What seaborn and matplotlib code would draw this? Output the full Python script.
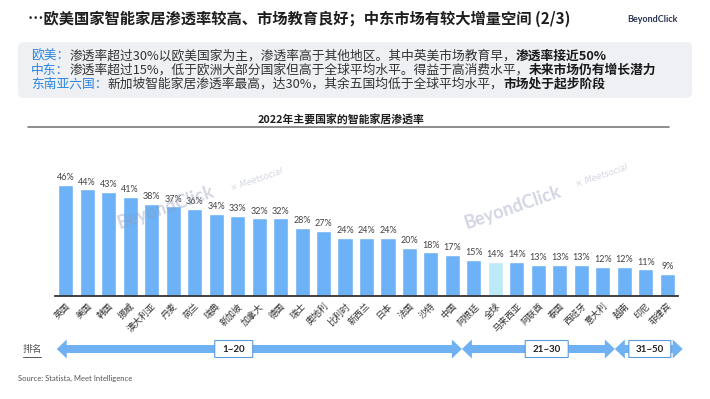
import matplotlib
matplotlib.use("Agg")
import matplotlib.pyplot as plt
import matplotlib.transforms as mtransforms
from matplotlib.patches import FancyBboxPatch, Polygon
import seaborn as sns
import pandas as pd

# =================================================================
# 1. Data
# =================================================================
countries = ["英国", "美国", "韩国", "挪威", "澳大利亚", "丹麦", "荷兰", "瑞典", "新加坡", "加拿大",
             "德国", "瑞士", "奥地利", "比利时", "新西兰", "日本", "法国", "沙特", "中国", "阿根廷",
             "全球", "马来西亚", "阿联酋", "泰国", "西班牙", "意大利", "越南", "印尼", "菲律宾"]
penetration = [46, 44, 43, 41, 38, 37, 36, 34, 33, 32,
               32, 28, 27, 24, 24, 24, 20, 18, 17, 15,
               14, 14, 13, 13, 13, 12, 12, 11, 9]
highlight = "全球"

rank_labels = ["1~20", "21~30", "31~50"]

title = "…欧美国家智能家居渗透率较高、市场教育良好；中东市场有较大增量空间 (2/3)"
chart_title = "2022年主要国家的智能家居渗透率"
notes = [
    ("欧美：", "渗透率超过30%以欧美国家为主，渗透率高于其他地区。其中英美市场教育早，", "渗透率接近50%"),
    ("中东：", "渗透率超过15%，低于欧洲大部分国家但高于全球平均水平。得益于高消费水平，", "未来市场仍有增长潜力"),
    ("东南亚六国：", "新加坡智能家居渗透率最高，达30%，其余五国均低于全球平均水平，", "市场处于起步阶段"),
]
source = "Source: Statista, Meet Intelligence"

df = pd.DataFrame({"country": countries, "rate": penetration})

# =================================================================
# 2. Style
# =================================================================
BAR = "#6DB2F6"
BAR_LIGHT = "#BDEAF8"
ARROW = "#6FB1F3"
BLUE_TXT = "#2A85E2"

sns.set_theme(style="white")
plt.rcParams["font.family"] = ["Noto Sans CJK SC", "DejaVu Sans"]

W, H = 710, 399
fig = plt.figure(figsize=(W / 100, H / 100), dpi=100)

# pixel-coordinate overlay for the slide decorations
deco = fig.add_axes([0, 0, 1, 1], zorder=0)
deco.set_xlim(0, W)
deco.set_ylim(H, 0)
deco.axis("off")

ax = fig.add_axes([55 / W, 103 / H, 623 / W, 126 / H], zorder=1)
ax.patch.set_alpha(0)

# =================================================================
# 3. Bars
# =================================================================
palette = {c: (BAR_LIGHT if c == highlight else BAR) for c in countries}
sns.barplot(data=df, x="country", y="rate", hue="country", palette=palette,
            legend=False, width=0.7, saturation=1, ax=ax)

for cont in ax.containers:
    ax.bar_label(cont, labels=[f"{v:.0f}%" for v in cont.datavalues], padding=2,
                 fontsize=6.5, color="#444444", family=["Lato", "DejaVu Sans"])

ax.set_xlim(-0.5, len(countries) - 0.5)
ax.set_ylim(0, 52)
ax.set_xlabel("")
ax.set_ylabel("")
ax.set_yticks([])
for s in ["left", "right", "top"]:
    ax.spines[s].set_visible(False)
ax.spines["bottom"].set_color("#333333")
ax.spines["bottom"].set_linewidth(1.3)
ax.tick_params(axis="x", length=0, pad=4)
plt.setp(ax.get_xticklabels(), rotation=45, ha="right", rotation_mode="anchor",
         fontsize=6.5, color="#333333")

# =================================================================
# 4. Ranking arrows (x in bar-index units, y in pixels)
# =================================================================
bt = mtransforms.blended_transform_factory(ax.transData, deco.transData)
spans = [(-0.42, 18.44, 7.82, 38), (18.44, 25.56, 22.39, 43), (25.56, 28.72, 27.19, 42)]
px = 21.48  # pixels per bar slot
ya = 349
for (x0, x1, cx, bw), lab in zip(spans, rank_labels):
    h = 10 / px
    verts = [(x0, ya), (x0 + h, ya - 9.5), (x0 + h, ya - 4), (x1 - h, ya - 4), (x1 - h, ya - 9.5),
             (x1, ya), (x1 - h, ya + 9.5), (x1 - h, ya + 4), (x0 + h, ya + 4), (x0 + h, ya + 9.5)]
    ax.add_patch(Polygon(verts, closed=True, transform=bt, clip_on=False,
                         facecolor=ARROW, edgecolor="none", zorder=3))
    bwi = bw / px
    ax.add_patch(FancyBboxPatch((cx - bwi / 2, ya - 8.5), bwi, 17,
                                boxstyle="round,pad=0,rounding_size=0.15",
                                transform=bt, clip_on=False, facecolor="white",
                                edgecolor="#5A9BDD", linewidth=0.8, zorder=4))
    ax.text(cx, ya, lab, transform=bt, ha="center", va="center", fontsize=7,
            fontweight="bold", color="#222222", zorder=5,
            family=["Lato", "DejaVu Sans"])

deco.text(23, ya, "排名", fontsize=7, color="#555555", va="center", ha="left")
deco.plot([23, 41], [357, 357], color="#555555", lw=0.7)

# =================================================================
# 5. Header, notes, titles
# =================================================================
deco.text(28, 19, title, fontsize=11, fontweight="bold", color="#1e1e1e", va="center", ha="left")
deco.text(652, 19, "BeyondClick", fontsize=6.5, fontweight="bold", color="#2B3452",
          va="center", ha="center", family=["Lato", "DejaVu Sans"])

deco.add_patch(FancyBboxPatch((18, 42), 674, 56, boxstyle="round,pad=0,rounding_size=6",
                              facecolor="#EEF0F3", edgecolor="none"))
for i, (lead, body, strong) in enumerate(notes):
    y = 56 + 14 * i
    t = deco.text(31, y, lead, fontsize=9.2, color=BLUE_TXT, va="center", ha="left")
    t = deco.annotate(body, xy=(1, 0), xycoords=t, va="bottom", ha="left",
                      fontsize=9.2, color="#333333")
    deco.annotate(strong, xy=(1, 0), xycoords=t, va="bottom", ha="left",
                  fontsize=9.2, color="#1a1a1a", fontweight="bold")

deco.text(341, 120, chart_title, fontsize=7.8, fontweight="bold", color="#1e1e1e",
          va="center", ha="center")
deco.plot([28, 669], [127, 127], color="#7a7a7a", lw=1.2)

deco.text(18, 378, source, fontsize=5.5, color="#555555", va="center", ha="left",
          family=["Lato", "DejaVu Sans"])

# watermarks
for (bx, by), (mx, my) in [((166, 207), (257, 180)), ((513, 207), (602, 176))]:
    ax.text(bx, by, "BeyondClick", transform=deco.transData, rotation=19, fontsize=13,
            fontweight="bold", color="#8E98B8", alpha=0.4, ha="center", va="center",
            family=["Lato", "DejaVu Sans"], zorder=6, clip_on=False)
    ax.text(mx, my, "× Meetsocial", transform=deco.transData, rotation=19, fontsize=6,
            color="#8E98B8", alpha=0.4, ha="center", va="center", style="italic",
            family=["DejaVu Sans"], zorder=6, clip_on=False)

fig.savefig("out.png", dpi=100)
